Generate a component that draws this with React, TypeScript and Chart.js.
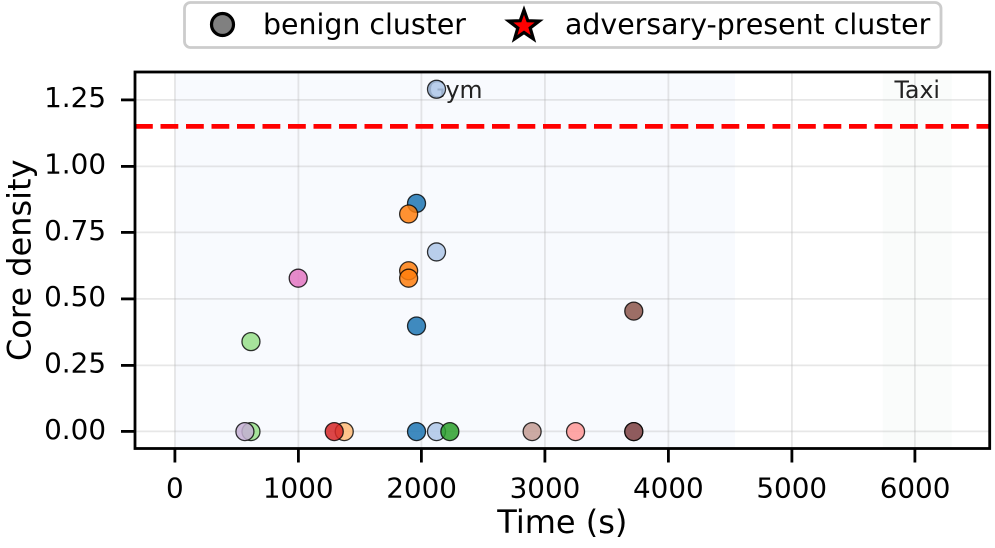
import React, { useEffect, useRef } from 'react';
import { Chart, registerables } from 'chart.js';

Chart.register(...registerables);

// ---- data ----
const clusterColors = [
  '#1f77b4', '#aec7e8', '#ff7f0e', '#ffbb78', '#2ca02c', '#98df8a', '#d62728',
  '#ff9896', '#9467bd', '#c5b0d5', '#8c564b', '#c49c94', '#e377c2',
];
const pointCluster = [0, 0, 0, 1, 1, 1, 2, 2, 2, 3, 4, 5, 5, 6, 7, 8, 9, 10, 10, 11, 12];
const pointTime = [1959, 1959, 1959, 2121, 2121, 2121, 1895, 1895, 1895, 1373, 2229, 617, 617, 1292, 3248, 3720, 568, 3720, 3720, 2896, 1000];
const pointDensity = [0.86, 0.398, 0, 1.29, 0.677, 0, 0.82, 0.606, 0.578, 0, 0, 0.339, 0, 0, 0, 0, 0, 0.454, 0, 0, 0.578];
const thresholdDensity = 1.15;
const xTicks = [0, 1000, 2000, 3000, 4000, 5000, 6000];
const yTicks = [0, 0.25, 0.5, 0.75, 1.0, 1.25];
const xRange = [-323, 6605];
const yRange = [-0.0637, 1.355];
const bandLabels = ['Gym', 'Taxi'];
const bandStart = [0, 5738];
const bandEnd = [4540, 6297];
const bandColors = ['rgba(65,105,225,0.035)', 'rgba(46,139,87,0.025)'];
const legendLabels = ['benign cluster', 'adversary-present cluster'];

const FONT = "'DejaVu Sans', sans-serif";

function hexA(hex: string, a: number) {
  const n = parseInt(hex.slice(1), 16);
  return `rgba(${(n >> 16) & 255},${(n >> 8) & 255},${n & 255},${a})`;
}

function starPath(ctx: CanvasRenderingContext2D, cx: number, cy: number, R: number, r: number) {
  ctx.beginPath();
  for (let i = 0; i < 10; i++) {
    const ang = -Math.PI / 2 + (i * Math.PI) / 5;
    const rad = i % 2 === 0 ? R : r;
    const px = cx + rad * Math.cos(ang);
    const py = cy + rad * Math.sin(ang);
    if (i === 0) ctx.moveTo(px, py);
    else ctx.lineTo(px, py);
  }
  ctx.closePath();
}

const decor = {
  id: 'decor',
  beforeDraw(chart: any) {
    const { ctx, chartArea: a, scales } = chart;
    const x = scales.x;
    ctx.save();
    ctx.beginPath();
    ctx.rect(a.left, a.top, a.right - a.left, a.bottom - a.top);
    ctx.clip();
    bandStart.forEach((s, i) => {
      const x0 = x.getPixelForValue(s);
      const x1 = x.getPixelForValue(bandEnd[i]);
      ctx.fillStyle = bandColors[i];
      ctx.fillRect(x0, a.top, x1 - x0, a.bottom - a.top);
    });
    ctx.restore();
  },
  beforeDatasetsDraw(chart: any) {
    const { ctx, chartArea: a, scales } = chart;
    const x = scales.x;
    ctx.save();
    ctx.font = `23.6px ${FONT}`;
    ctx.fillStyle = '#222222';
    ctx.textAlign = 'center';
    ctx.textBaseline = 'alphabetic';
    bandLabels.forEach((lab, i) => {
      const cx = x.getPixelForValue((bandStart[i] + bandEnd[i]) / 2);
      ctx.fillText(lab, cx, a.top + 26);
    });
    ctx.restore();
  },
  afterDraw(chart: any) {
    const { ctx, chartArea: a } = chart;
    ctx.save();
    // frame
    ctx.strokeStyle = '#000';
    ctx.lineWidth = 2.8;
    ctx.strokeRect(a.left, a.top, a.right - a.left, a.bottom - a.top);

    // legend
    const bx = 184.5, by = 2.5, bw = 756.5, bh = 45, br = 6;
    ctx.beginPath();
    ctx.moveTo(bx + br, by);
    ctx.arcTo(bx + bw, by, bx + bw, by + bh, br);
    ctx.arcTo(bx + bw, by + bh, bx, by + bh, br);
    ctx.arcTo(bx, by + bh, bx, by, br);
    ctx.arcTo(bx, by, bx + bw, by, br);
    ctx.closePath();
    ctx.fillStyle = 'rgba(255,255,255,0.85)';
    ctx.fill();
    ctx.strokeStyle = '#cccccc';
    ctx.lineWidth = 2.8;
    ctx.stroke();

    ctx.beginPath();
    ctx.arc(222.5, 24.5, 11, 0, Math.PI * 2);
    ctx.fillStyle = '#808080';
    ctx.fill();
    ctx.strokeStyle = '#000';
    ctx.lineWidth = 3.2;
    ctx.stroke();

    starPath(ctx, 524, 26, 16, 6.5);
    ctx.fillStyle = '#ff0000';
    ctx.fill();
    ctx.lineJoin = 'miter';
    ctx.lineWidth = 3.2;
    ctx.strokeStyle = '#000';
    ctx.stroke();

    ctx.font = `28.4px ${FONT}`;
    ctx.fillStyle = '#000';
    ctx.textAlign = 'left';
    ctx.textBaseline = 'alphabetic';
    ctx.fillText(legendLabels[0], 263, 34);
    ctx.fillText(legendLabels[1], 565, 34);
    ctx.restore();
  },
};

export default function App() {
  const ref = useRef<HTMLCanvasElement | null>(null);

  useEffect(() => {
    document.body.style.margin = '0';
    document.body.style.overflow = 'hidden';
    if (!ref.current) return;

    const nClusters = clusterColors.length;
    const datasets: any[] = clusterColors.map((col, c) => {
      const pts: { x: number; y: number }[] = [];
      pointCluster.forEach((pc, i) => {
        if (pc === c) pts.push({ x: pointTime[i], y: pointDensity[i] });
      });
      return {
        type: 'scatter',
        label: `cluster ${c}`,
        data: pts,
        backgroundColor: hexA(col, 0.85),
        borderColor: 'rgba(0,0,0,0.8)',
        borderWidth: 1.3,
        pointRadius: 9,
        pointHoverRadius: 9,
        order: nClusters + 2 - c,
      };
    });
    datasets.push({
      type: 'line',
      label: 'threshold',
      data: [
        { x: xRange[0], y: thresholdDensity },
        { x: xRange[1], y: thresholdDensity },
      ],
      borderColor: '#ff0000',
      borderWidth: 4.8,
      borderDash: [17.8, 7.7],
      pointRadius: 0,
      fill: false,
      order: 0,
    });

    const chart = new Chart(ref.current, {
      type: 'scatter',
      data: { datasets },
      options: {
        animation: false,
        responsive: true,
        maintainAspectRatio: false,
        devicePixelRatio: 2,
        layout: { padding: { top: 72, right: 5, left: 0, bottom: 0 } },
        plugins: {
          legend: { display: false },
          tooltip: { enabled: false },
        },
        scales: {
          x: {
            type: 'linear',
            min: xRange[0],
            max: xRange[1],
            afterBuildTicks: (s: any) => {
              s.ticks = xTicks.map((v) => ({ value: v }));
            },
            afterFit: (s: any) => {
              s.height = 99.5;
              s.paddingLeft = 0;
              s.paddingRight = 0;
            },
            ticks: {
              color: '#000',
              font: { family: FONT, size: 27.8 },
              padding: 11,
              maxRotation: 0,
              autoSkip: false,
              callback: (v: any) => String(v),
            },
            grid: {
              color: 'rgba(176,176,176,0.3)',
              lineWidth: 1.8,
              tickColor: '#000',
              tickLength: 14,
              tickWidth: 2.8,
            },
            border: { display: false },
            title: {
              display: true,
              text: 'Time (s)',
              color: '#000',
              font: { family: FONT, size: 32 },
              padding: { top: 0, bottom: 4 },
            },
          },
          y: {
            type: 'linear',
            min: yRange[0],
            max: yRange[1],
            afterBuildTicks: (s: any) => {
              s.ticks = yTicks.map((v) => ({ value: v }));
            },
            afterFit: (s: any) => {
              s.width = 135;
              s.paddingTop = 0;
              s.paddingBottom = 0;
            },
            ticks: {
              color: '#000',
              font: { family: FONT, size: 27.8 },
              padding: 15,
              autoSkip: false,
              callback: (v: any) => Number(v).toFixed(2),
            },
            grid: {
              color: 'rgba(176,176,176,0.3)',
              lineWidth: 1.8,
              tickColor: '#000',
              tickLength: 14,
              tickWidth: 2.8,
            },
            border: { display: false },
            title: {
              display: true,
              text: 'Core density',
              color: '#000',
              font: { family: FONT, size: 32 },
              padding: { top: 3, bottom: 0 },
            },
          },
        },
      },
      plugins: [decor],
    } as any);

    return () => chart.destroy();
  }, []);

  // Chart.js reserves ~10px on the right for point overflow; widen the canvas so the
  // plot's right spine lands where the reference has it, and crop to 995px.
  return (
    <div style={{ position: 'relative', width: '995px', height: '548px', overflow: 'hidden', background: '#fff' }}>
      <div style={{ position: 'relative', width: '1000px', height: '548px' }}>
        <canvas ref={ref} />
      </div>
    </div>
  );
}
